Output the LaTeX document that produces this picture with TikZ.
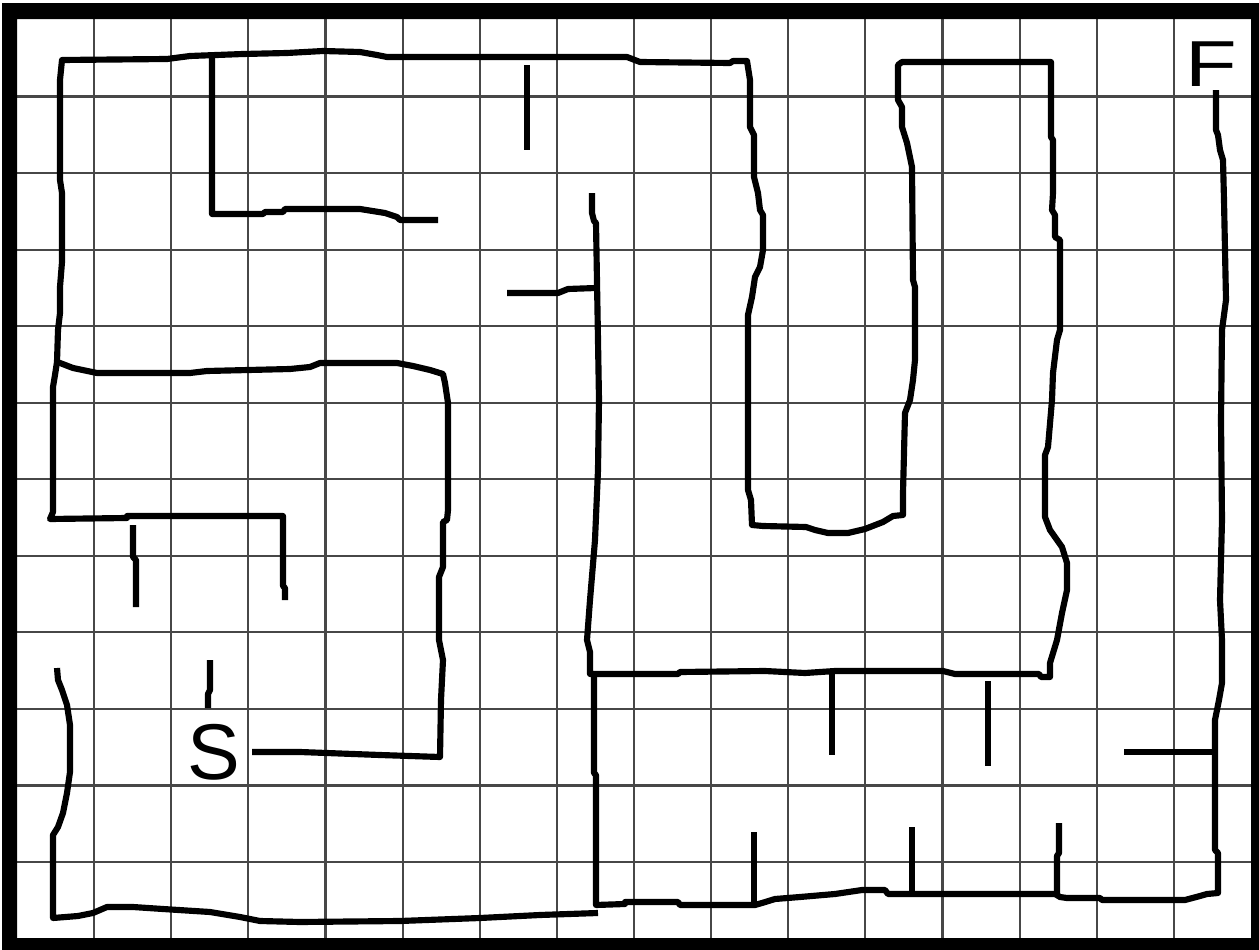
\documentclass[tikz,border=0pt]{standalone}
\usepackage{fontspec}
\setmainfont{Liberation Sans}

\begin{document}
\begin{tikzpicture}[
  x=0.02cm, y=-0.02cm,
  wall/.style={line width=3.5pt, line join=round},
  gridline/.style={line width=1.2pt, black!72},
  letter/.style={inner sep=0pt, font=\fontsize{45}{45}\selectfont}
]
\useasboundingbox (0,0) rectangle (1259,950);
\fill[white] (0,0) rectangle (1259,950);
\foreach \i in {1,...,15}
  \draw[gridline] ({17+77.125*\i},19) -- ({17+77.125*\i},938);
\foreach \j in {1,...,11}
  \draw[gridline] (17,{20+76.55*\j}) -- (1251,{20+76.55*\j});
\fill[black, even odd rule] (2,3) rectangle (1259,950) (17,19) rectangle (1251,938);

\draw[wall] (285,600) -- (285,588) -- (283,586) -- (283,516) -- (127,516) -- (127,518)
  -- (50,519) -- (53,512) -- (53,387) -- (55,375) -- (57,362) -- (58,330) -- (60,313)
  -- (60,287) -- (62,262) -- (62,193) -- (60,180) -- (60,80) -- (62,60) -- (167,59)
  -- (190,56) -- (243,54) -- (287,53) -- (323,51) -- (360,52) -- (377,55) -- (387,57)
  -- (627,57) -- (640,62) -- (730,63) -- (733,61) -- (747,61) -- (750,80) -- (750,127)
  -- (754,135) -- (754,177) -- (758,193) -- (760,210) -- (763,215) -- (763,250)
  -- (760,267) -- (755,277) -- (752,297) -- (748,315) -- (748,490) -- (751,500)
  -- (752,525) -- (763,526) -- (806,527) -- (815,530) -- (828,533) -- (848,533)
  -- (865,529) -- (883,522) -- (893,516) -- (903,515) -- (903,493) -- (905,413)
  -- (910,400) -- (913,380) -- (915,360) -- (915,287) -- (913,280) -- (912,167)
  -- (907,143) -- (902,127) -- (902,107) -- (898,100) -- (898,65) -- (902,62)
  -- (1051,62) -- (1051,137) -- (1053,140) -- (1053,193) -- (1052,210) -- (1055,215)
  -- (1055,237) -- (1060,240) -- (1060,330) -- (1057,340) -- (1053,373) -- (1052,400)
  -- (1048,447) -- (1045,455) -- (1045,517) -- (1050,530) -- (1062,547) -- (1067,563)
  -- (1067,590) -- (1062,613) -- (1057,640) -- (1050,663) -- (1050,677) -- (1041,677)
  -- (1039,674) -- (955,674) -- (943,671) -- (835,671) -- (805,673) -- (765,671)
  -- (680,672) -- (678,674) -- (590,674) -- (590,652) -- (587,640) -- (590,600)
  -- (595,540) -- (598,470) -- (599,400) -- (598,340) -- (596,223) -- (594,221)
  -- (592,213) -- (592,193);
\draw[wall] (594,674) -- (594,773) -- (596,775) -- (596,905) -- (625,904) -- (625,902)
  -- (678,902) -- (680,905) -- (755,905) -- (762,903) -- (775,899) -- (800,897)
  -- (835,894) -- (862,890) -- (885,890) -- (888,894) -- (1055,894) -- (1060,897)
  -- (1067,898) -- (1100,898) -- (1102,900) -- (1185,900) -- (1200,896) -- (1207,894)
  -- (1218,893) -- (1218,853) -- (1215,850) -- (1215,720) -- (1219,700) -- (1222,683)
  -- (1222,640) -- (1220,600) -- (1222,520) -- (1221,420) -- (1222,330) -- (1226,300)
  -- (1224,200) -- (1223,160) -- (1220,150) -- (1218,135) -- (1216,130) -- (1216,90);
\draw[wall] (57,362) -- (60,363) -- (73,368) -- (97,373) -- (190,373) -- (207,371)
  -- (290,369) -- (310,367) -- (320,363) -- (397,363) -- (413,366) -- (430,370)
  -- (443,374) -- (445,383) -- (448,403) -- (448,510) -- (447,520) -- (443,522)
  -- (443,567) -- (439,577) -- (439,640) -- (443,660) -- (441,700) -- (440,757)
  -- (380,755) -- (300,752) -- (252,752);
\draw[wall] (212,57) -- (212,214) -- (263,214) -- (265,212) -- (283,212) -- (285,209)
  -- (360,209) -- (385,213) -- (397,217) -- (400,220) -- (438,220);
\draw[wall] (57,668) -- (58,680) -- (62,690) -- (67,705) -- (70,725) -- (70,772)
  -- (67,793) -- (63,813) -- (58,827) -- (53,835) -- (53,918) -- (78,916) -- (93,913)
  -- (107,907) -- (133,907) -- (163,909) -- (210,912) -- (240,917) -- (260,921)
  -- (300,922) -- (400,921) -- (480,918) -- (540,915) -- (598,913);
\draw[wall] (527,65) -- (527,150);
\draw[wall] (507,293) -- (558,293) -- (568,289) -- (596,288);
\draw[wall] (133,525) -- (133,557) -- (136,560) -- (136,607);
\draw[wall] (210,660) -- (210,690) -- (208,694) -- (208,708);
\draw[wall] (832,674) -- (832,755);
\draw[wall] (988,681) -- (988,766);
\draw[wall] (1124,752) -- (1215,752);
\draw[wall] (754,832) -- (754,905);
\draw[wall] (912,827) -- (912,893);
\draw[wall] (1059,823) -- (1059,853) -- (1057,856) -- (1057,894);

\node[letter] (start) at (214,752) {S};
\node[letter, font=\fontsize{37}{37}\selectfont, xscale=1.3, transform shape] (finish) at (1211,64) {F};
\end{tikzpicture}
\end{document}
